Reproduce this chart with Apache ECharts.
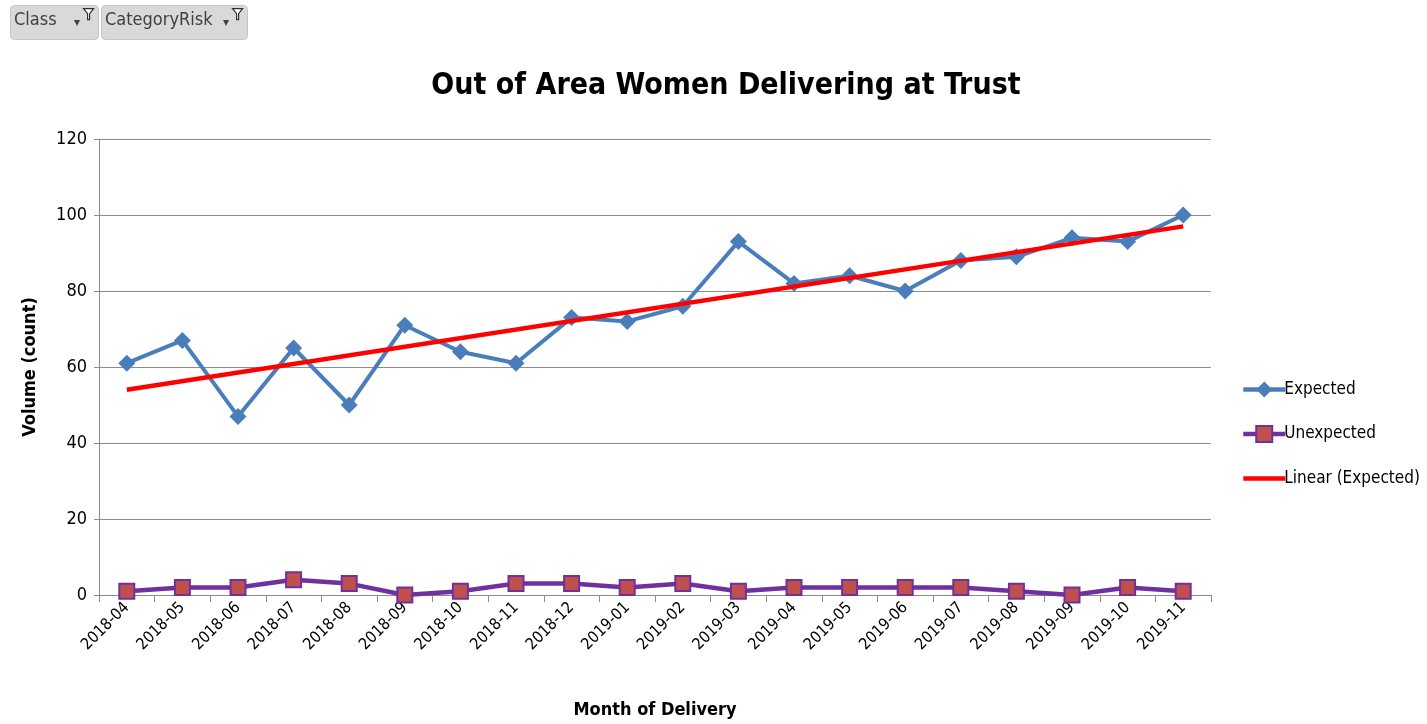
<!DOCTYPE html>
<html>
<head>
<meta charset="utf-8">
<script src="https://cdn.jsdelivr.net/npm/echarts@6/dist/echarts.min.js"></script>
<style>
  html, body { margin: 0; padding: 0; background: #fff; }
  #chart { width: 1427px; height: 724px; }
</style>
</head>
<body>
<div id="chart"></div>
<script>
// months on the x axis
const months = ["2018-04", "2018-05", "2018-06", "2018-07", "2018-08", "2018-09", "2018-10",
  "2018-11", "2018-12", "2019-01", "2019-02", "2019-03", "2019-04", "2019-05", "2019-06",
  "2019-07", "2019-08", "2019-09", "2019-10", "2019-11"];
const expected = [61, 67, 47, 65, 50, 71, 64, 61, 73, 72, 76, 93, 82, 84, 80, 88, 89, 94, 93, 100];
const unexpected = [1, 2, 2, 4, 3, 0, 1, 3, 3, 2, 3, 1, 2, 2, 2, 2, 1, 0, 2, 1];
// trend line ends (start / end month)
const trendEnds = [54, 97];

const font = '"DejaVu Sans Condensed", "DejaVu Sans", sans-serif';

let chartDom = document.getElementById("chart");
let myChart = echarts.init(chartDom);

// little filter buttons at top left
function button(x, w, label) {
  return [
    {
      type: "rect",
      left: x, top: 5,
      shape: { width: w, height: 34, r: 4 },
      style: { fill: "#d9d9d9", stroke: "#c4c4c4", lineWidth: 1 }
    },
    {
      type: "text",
      left: x + 4, top: 11,
      style: { text: label, fontSize: 18, fill: "#404040", fontFamily: font }
    },
    {
      type: "text",
      left: x + w - 24, top: 17,
      style: { text: "▾", fontSize: 12, fill: "#404040" }
    },
    {
      type: "polygon",
      left: x + w - 15, top: 8,
      shape: { points: [[0, 0], [10, 0], [6, 5], [6, 11], [4, 11], [4, 5]] },
      style: { fill: "#fff", stroke: "#303030", lineWidth: 1.2 }
    }
  ];
}

let option = {
  backgroundColor: "#fff",
  title: {
    text: "Out of Area Women Delivering at Trust",
    left: 721,
    textAlign: "center",
    top: 66,
    textStyle: { fontSize: 30, fontWeight: "bold", color: "#000", fontFamily: font }
  },
  graphic: [].concat(button(10, 88, "Class"), button(101, 146, "CategoryRisk")),
  legend: {
    orient: "vertical",
    left: 1236,
    top: 376,
    itemGap: 27,
    itemWidth: 42,
    itemHeight: 20,
    lineStyle: { width: 4.5 },
    textStyle: { fontSize: 17, color: "#000", fontFamily: font, padding: [0, 0, 0, -6] },
    data: [
      "Expected",
      "Unexpected",
      { name: "Linear (Expected)", itemStyle: { color: "rgba(0,0,0,0)", borderWidth: 0 } }
    ]
  },
  grid: { left: 99, right: 216, top: 139, bottom: 129 },
  xAxis: {
    type: "category",
    data: months,
    boundaryGap: true,
    name: "Month of Delivery",
    nameLocation: "middle",
    nameGap: 106,
    nameTextStyle: { fontSize: 18, fontWeight: "bold", color: "#000", fontFamily: font },
    axisLine: { lineStyle: { color: "#8c8c8c", width: 1 } },
    axisTick: { show: true, length: 7, alignWithLabel: false, lineStyle: { color: "#8c8c8c" } },
    axisLabel: { rotate: 45, fontSize: 16, color: "#000", fontFamily: font, margin: 10 }
  },
  yAxis: {
    type: "value",
    min: 0,
    max: 120,
    interval: 20,
    name: "Volume (count)",
    nameLocation: "middle",
    nameGap: 60,
    nameRotate: 90,
    nameTextStyle: { fontSize: 18, fontWeight: "bold", color: "#000", fontFamily: font },
    axisLine: { show: true, lineStyle: { color: "#8c8c8c", width: 1 } },
    axisTick: { show: true, length: 5, lineStyle: { color: "#8c8c8c" } },
    axisLabel: { fontSize: 18, color: "#000", fontFamily: font, margin: 12 },
    splitLine: { lineStyle: { color: "#8c8c8c", width: 1 } }
  },
  series: [
    {
      name: "Expected",
      type: "line",
      data: expected,
      symbol: "diamond",
      symbolSize: 17,
      lineStyle: { color: "#4a7ebb", width: 4 },
      itemStyle: { color: "#4a7ebb" },
      z: 2
    },
    {
      name: "Unexpected",
      type: "line",
      data: unexpected,
      symbol: "rect",
      symbolSize: 15,
      lineStyle: { color: "#7030a0", width: 4.5 },
      itemStyle: { color: "#c0504d", borderColor: "#7030a0", borderWidth: 2 },
      z: 3
    },
    {
      name: "Linear (Expected)",
      type: "line",
      data: [[months[0], trendEnds[0]], [months[months.length - 1], trendEnds[1]]],
      symbol: "none",
      lineStyle: { color: "#ff0000", width: 4.5 },
      itemStyle: { color: "#ff0000" },
      z: 4
    }
  ],
  animation: false
};

option && myChart.setOption(option);
</script>
</body>
</html>
